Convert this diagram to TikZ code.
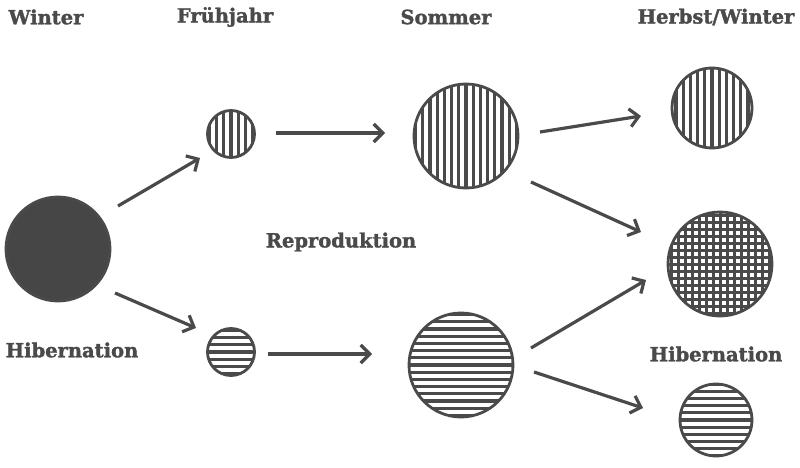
\documentclass[tikz,border=0pt]{standalone}
\usepackage{fontspec}
\setmainfont{DejaVu Serif}[BoldFeatures={FakeBold=1.6}]
\usetikzlibrary{arrows.meta}
\definecolor{ink}{HTML}{4A4A4A}
\definecolor{paper}{HTML}{FFFFFF}
\tikzset{
  label text/.style={text=ink, font=\bfseries\fontsize{19.5}{22}\selectfont, inner sep=0pt},
  disc/.style={circle, draw=ink, line width=2.8pt, inner sep=0pt, minimum size=#1},
  solid disc/.style={disc=#1, fill=ink!95!black},
  vstripes/.style={path picture={
      \foreach \i in {-12,...,12}{
        \draw[ink, line width=3.2pt]
          ([xshift=\i*7.2pt]path picture bounding box.north) --
          ([xshift=\i*7.2pt]path picture bounding box.south);}}},
  hstripes/.style={path picture={
      \foreach \i in {-12,...,12}{
        \draw[ink, line width=3.2pt]
          ([yshift=\i*7.2pt]path picture bounding box.west) --
          ([yshift=\i*7.2pt]path picture bounding box.east);}}},
  grid stripes/.style={path picture={
      \foreach \i in {-12,...,12}{
        \draw[ink, line width=3pt]
          ([xshift=\i*7pt]path picture bounding box.north) --
          ([xshift=\i*7pt]path picture bounding box.south);
        \draw[ink, line width=3pt]
          ([yshift=\i*7pt]path picture bounding box.west) --
          ([yshift=\i*7pt]path picture bounding box.east);}}},
  flow/.style={draw=ink, line width=3.2pt,
    -{Straight Barb[length=9pt, width=18pt, line width=3.2pt]}},
}
\begin{document}
\begin{tikzpicture}[x=1pt, y=-1pt]
  \useasboundingbox[fill=paper] (0,0) rectangle (800,468);

  % column headings
  \node[label text] (hWinter) at (46,17) {Winter};
  \node[label text] (hSpring) at (225,17) {Frühjahr};
  \node[label text] (hSummer) at (446,17) {Sommer};
  \node[label text] (hAutumn) at (716,17) {Herbst/Winter};

  % side labels
  \node[label text] (lRepro) at (341,242) {Reproduktion};
  \node[label text] (lHibL) at (72,350) {Hibernation};
  \node[label text] (lHibR) at (716,354) {Hibernation};

  % populations
  \node[solid disc=104pt] (winter) at (58,249) {};
  \node[disc=47pt, vstripes] (springV) at (231,134) {};
  \node[disc=47pt, hstripes] (springH) at (231,352) {};
  \node[disc=104pt, vstripes] (summerV) at (466,136) {};
  \node[disc=104pt, hstripes] (summerH) at (461,365) {};
  \node[disc=80pt, vstripes] (autumnV) at (712,108) {};
  \node[disc=104pt, grid stripes] (autumnX) at (720,264) {};
  \node[disc=72pt, hstripes] (autumnH) at (716,420) {};

  % arrow end points
  \coordinate (a1s) at (118,206); \coordinate (a1e) at (200,158);
  \coordinate (a2s) at (115,293); \coordinate (a2e) at (196,328);
  \coordinate (a3s) at (276,133); \coordinate (a3e) at (385,133);
  \coordinate (a4s) at (268,354); \coordinate (a4e) at (372,354);
  \coordinate (a5s) at (540,132); \coordinate (a5e) at (641,116);
  \coordinate (a6s) at (531,182); \coordinate (a6e) at (641,232);
  \coordinate (a7s) at (531,348); \coordinate (a7e) at (646,280);
  \coordinate (a8s) at (534,372); \coordinate (a8e) at (643,408);

  \draw[flow] (a1s) -- (a1e);
  \draw[flow] (a2s) -- (a2e);
  \draw[flow] (a3s) -- (a3e);
  \draw[flow] (a4s) -- (a4e);
  \draw[flow] (a5s) -- (a5e);
  \draw[flow] (a6s) -- (a6e);
  \draw[flow] (a7s) -- (a7e);
  \draw[flow] (a8s) -- (a8e);
\end{tikzpicture}
\end{document}
